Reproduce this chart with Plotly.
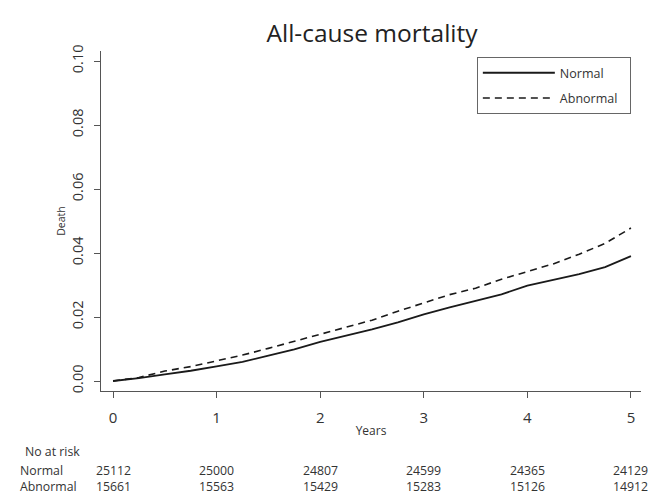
import plotly.graph_objects as go

years = [0, 0.25, 0.5, 0.75, 1, 1.25, 1.5, 1.75, 2, 2.25, 2.5, 2.75, 3,
         3.25, 3.5, 3.75, 4, 4.25, 4.5, 4.75, 5]
normal = [0, 0.0009, 0.0021, 0.0032, 0.0046, 0.006, 0.0079, 0.0099, 0.0122,
          0.0141, 0.0161, 0.0183, 0.0208, 0.023, 0.025, 0.0271, 0.0298,
          0.0316, 0.0334, 0.0356, 0.039]
abnormal = [0, 0.0011, 0.0031, 0.0045, 0.0063, 0.0081, 0.0102, 0.0124, 0.0148,
            0.0168, 0.019, 0.0218, 0.0245, 0.027, 0.029, 0.0318, 0.0342,
            0.0366, 0.0396, 0.043, 0.0478]

risk_times = [0, 1, 2, 3, 4, 5]
risk_normal = [25112, 25000, 24807, 24599, 24365, 24129]
risk_abnormal = [15661, 15563, 15429, 15283, 15126, 14912]
y_ticks = [0, 0.02, 0.04, 0.06, 0.08, 0.10]
y_ticklabels = ["0.00", "0.02", "0.04", "0.06", "0.08", "0.10"]

FONT = "Open Sans"
TXT = "#333333"
NB = "\u00a0"
RISK_FS = 12.3

fig = go.Figure()
fig.add_trace(go.Scatter(x=years, y=normal, mode="lines", name="Normal" + NB * 6,
                         legendgroup="n",
                         line=dict(color="#1a1a1a", width=1.8)))
fig.add_trace(go.Scatter(x=years, y=abnormal, mode="lines", name="Abnormal" + NB * 2,
                         legendgroup="a",
                         line=dict(color="#1a1a1a", width=1.6, dash="7px,5px")))

fig.update_layout(
    width=655, height=498,
    margin=dict(l=101, r=14, t=51, b=107),
    paper_bgcolor="white", plot_bgcolor="white",
    font=dict(family=FONT, color=TXT),
    title=dict(text="All-cause mortality", x=372 / 655, xanchor="center",
               y=1 - 33 / 498, yanchor="middle",
               font=dict(size=24.5, color="#222222", family=FONT)),
    showlegend=True,
    legend=dict(x=0.696, y=0.982, xanchor="left", yanchor="top",
                bordercolor="#666666", borderwidth=1, bgcolor="white",
                font=dict(size=12.5, color=TXT, family=FONT),
                itemwidth=72, tracegroupgap=6),
)

fig.update_xaxes(range=[-0.116, 5.097], tickvals=risk_times,
                 ticktext=[str(t) for t in risk_times],
                 showgrid=False, zeroline=False, showline=True,
                 linecolor="#555555", linewidth=1.3,
                 ticks="outside", ticklen=6, tickcolor="#555555",
                 tickfont=dict(size=15, color=TXT), ticklabelstandoff=7,
                 title=dict(text="Years", font=dict(size=12, color=TXT), standoff=0))
fig.update_yaxes(range=[-0.003125, 0.103125], tickvals=y_ticks,
                 ticktext=y_ticklabels, tickangle=-90,
                 showgrid=False, zeroline=False, showline=True,
                 linecolor="#555555", linewidth=1.3,
                 ticks="outside", ticklen=6, tickcolor="#555555",
                 tickfont=dict(size=14.5, color=TXT), ticklabelstandoff=5,
                 title=dict(text="Death", font=dict(size=10.5, color=TXT), standoff=0))

def py(pix):
    return (391 - pix) / 340.0

fig.add_annotation(text="No at risk", xref="paper", yref="paper",
                   x=(24 - 101) / 540, y=py(451), xanchor="left", yanchor="middle",
                   showarrow=False, borderpad=0, font=dict(size=RISK_FS, color=TXT))
fig.add_annotation(text="Normal<br>Abnormal", xref="paper", yref="paper",
                   x=(19 - 101) / 540, y=py(478), xanchor="left", yanchor="middle",
                   align="left", showarrow=False, borderpad=0,
                   font=dict(size=RISK_FS, color=TXT))
for t, n, a in zip(risk_times, risk_normal, risk_abnormal):
    fig.add_annotation(text=f"{n}<br>{a}", xref="x", yref="paper", x=t, y=py(478),
                       xanchor="center", yanchor="middle", align="center",
                       showarrow=False, borderpad=0,
                       font=dict(size=RISK_FS, color=TXT))

body = fig.to_html(full_html=False, include_plotlyjs=True,
                   config={"displayModeBar": False})
html = ("<!DOCTYPE html><html><head><meta charset='utf-8'>"
        "<style>html,body{margin:0;padding:0;overflow:hidden;background:white;}</style>"
        "</head><body>" + body + "</body></html>")
with open("out.html", "w", encoding="utf-8") as f:
    f.write(html)
